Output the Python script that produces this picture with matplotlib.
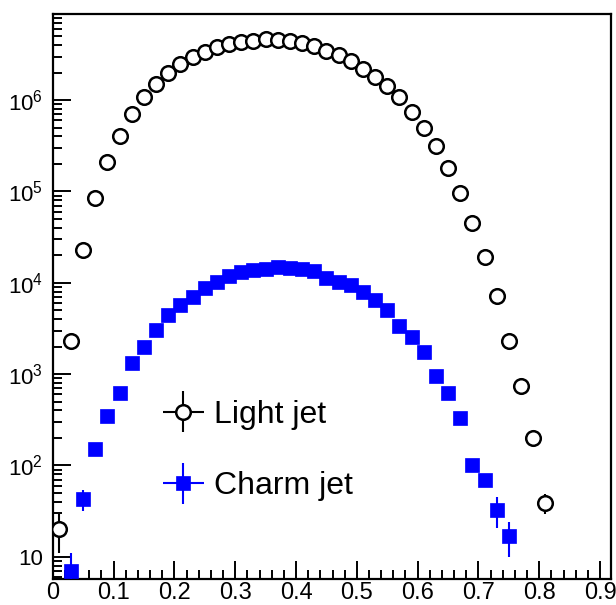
import numpy as np
import matplotlib
matplotlib.use("Agg")
import matplotlib.pyplot as plt
from matplotlib.ticker import FixedLocator, LogLocator, FuncFormatter, MultipleLocator
from matplotlib.container import ErrorbarContainer
from matplotlib.legend_handler import HandlerErrorbar

plt.rcParams["font.family"] = ["Liberation Sans", "DejaVu Sans"]
plt.rcParams["mathtext.fontset"] = "custom"
plt.rcParams["mathtext.rm"] = "Liberation Sans"
plt.rcParams["mathtext.it"] = "Liberation Sans"

# bin centres (width 0.02)
light_x = [0.01, 0.03, 0.05, 0.07, 0.09, 0.11, 0.13, 0.15, 0.17, 0.19,
           0.21, 0.23, 0.25, 0.27, 0.29, 0.31, 0.33, 0.35, 0.37, 0.39,
           0.41, 0.43, 0.45, 0.47, 0.49, 0.51, 0.53, 0.55, 0.57, 0.59,
           0.61, 0.63, 0.65, 0.67, 0.69, 0.71, 0.73, 0.75, 0.77, 0.79, 0.81]
light_y = [20, 2320, 22900, 84000, 212000, 405000, 700000, 1.08e6, 1.49e6, 1.97e6,
           2.47e6, 2.95e6, 3.40e6, 3.85e6, 4.12e6, 4.37e6, 4.48e6, 4.65e6, 4.56e6, 4.45e6,
           4.26e6, 3.92e6, 3.46e6, 3.11e6, 2.71e6, 2.20e6, 1.81e6, 1.43e6, 1.07e6, 743000,
           492000, 315000, 182000, 97000, 45500, 19300, 7200, 2320, 742, 198, 39]
light_err = [9, 50, 150, 290, 460, 640, 840, 1040, 1220, 1400,
             1570, 1720, 1840, 1960, 2030, 2090, 2120, 2160, 2140, 2110,
             2060, 1980, 1860, 1760, 1650, 1480, 1350, 1200, 1030, 860,
             700, 560, 430, 310, 210, 140, 85, 48, 27, 14, 10]

charm_x = [0.03, 0.05, 0.07, 0.09, 0.11, 0.13, 0.15, 0.17, 0.19, 0.21,
           0.23, 0.25, 0.27, 0.29, 0.31, 0.33, 0.35, 0.37, 0.39, 0.41,
           0.43, 0.45, 0.47, 0.49, 0.51, 0.53, 0.55, 0.57, 0.59, 0.61,
           0.63, 0.65, 0.67, 0.69, 0.71, 0.73, 0.75]
charm_y = [7, 42.6, 151, 347, 617, 1333, 2000, 3040, 4440, 5710,
           7050, 8710, 10300, 11900, 13200, 13800, 14300, 14800, 14600, 14300,
           13500, 11200, 10300, 9460, 8000, 6460, 5010, 3370, 2530, 1757,
           955, 617, 331, 101, 69, 32.5, 16.9]
charm_err = [4, 11, 13, 19, 25, 37, 45, 55, 67, 76,
             84, 93, 101, 109, 115, 117, 120, 122, 121, 120,
             116, 106, 101, 97, 89, 80, 71, 58, 50, 42,
             31, 25, 18, 10, 8, 12, 7]

fig = plt.figure(figsize=(6.16, 6.05), dpi=100)
ax = fig.add_axes([0.0856, 0.043, 0.9064, 0.934])

# white-filled circles so the error bars don't show through
light = ax.errorbar(light_x, light_y, xerr=0, yerr=light_err, fmt="o",
                    ms=10.5, mfc="white", mec="black", mew=1.8,
                    ecolor="black", elinewidth=1.5, capsize=0,
                    label="Light jet", zorder=3)
light[0].set_zorder(4)
charm = ax.errorbar(charm_x, charm_y, xerr=0, yerr=charm_err, fmt="s",
                    ms=10.5, mfc="blue", mec="blue", mew=0.5,
                    ecolor="blue", elinewidth=1.5, capsize=0,
                    label="Charm jet", zorder=3)
charm[0].set_zorder(4)

ax.set_yscale("log")
ax.set_xlim(0, 0.918)
ax.set_ylim(5.7, 8.8e6)

ax.xaxis.set_major_locator(MultipleLocator(0.1))
ax.xaxis.set_minor_locator(MultipleLocator(0.02))
ax.xaxis.set_major_formatter(FuncFormatter(lambda v, p: "0" if abs(v) < 1e-9 else f"{v:.1f}"))

ax.yaxis.set_major_locator(FixedLocator([10, 1e2, 1e3, 1e4, 1e5, 1e6]))
ax.yaxis.set_minor_locator(LogLocator(base=10, subs=np.arange(2, 10)))


def log_label(v, pos):
    e = int(round(np.log10(v)))
    if e == 1:
        return "10"
    return r"$\mathregular{10^{%d}}$" % e


ax.yaxis.set_major_formatter(FuncFormatter(log_label))

ax.tick_params(which="both", direction="in", top=False, right=False,
               width=1.4, color="black")
ax.tick_params(which="major", length=13)
ax.tick_params(which="minor", length=6.5)
ax.tick_params(axis="x", which="major", pad=2, labelsize=17)
ax.tick_params(axis="y", which="major", pad=7, labelsize=16)
for side in ax.spines.values():
    side.set_linewidth(1.6)

ax.legend(handles=[light, charm], loc="center left",
          bbox_to_anchor=(0.196, 0.227), frameon=False, fontsize=23,
          numpoints=1, handlelength=1.33, handletextpad=0.28,
          labelspacing=1.3, borderpad=0, borderaxespad=0,
          handler_map={ErrorbarContainer: HandlerErrorbar(xerr_size=0.64)})

fig.savefig("out.png", dpi=100)
